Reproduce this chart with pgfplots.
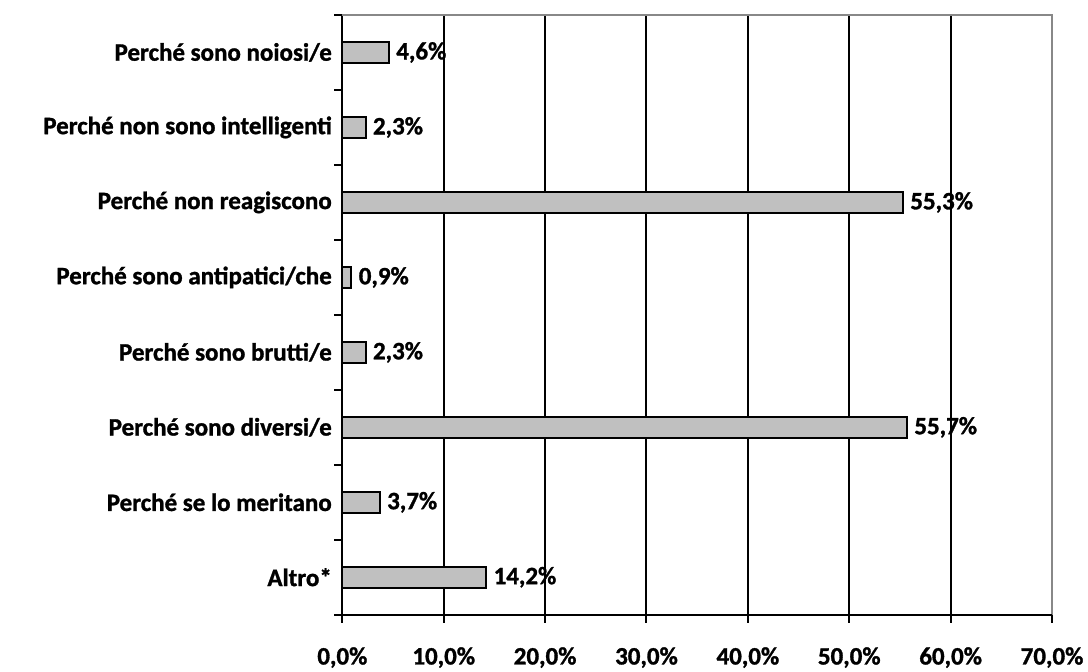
\documentclass[border=0pt]{standalone}
\usepackage{pgfplots}
\pgfplotsset{compat=1.18}
\usepackage{fontspec}
\setmainfont[BoldFeatures={FakeBold=1.2}]{Carlito}
\definecolor{barfill}{HTML}{C0C0C0}
\definecolor{framegray}{HTML}{888888}
\begin{document}
\begin{tikzpicture}[x=1pt,y=1pt]
\begin{axis}[
  scale only axis,
  width=710pt, height=600pt,
  xbar, bar width=21pt,
  xmin=0, xmax=70, ymin=-0.5, ymax=7.5,
  axis x line*=bottom, axis y line*=left,
  axis line style={black, line width=2pt},
  /pgf/number format/assume math mode=true,
  font=\fontsize{25}{29}\selectfont\bfseries,
  xtick={0,10,...,70},
  xticklabel={\pgfmathprintnumber[fixed,zerofill,precision=1,use comma]{\tick}\%},
  xticklabel style={yshift=-21pt},
  xmajorgrids, major grid style={black, line width=2pt},
  ytick={-0.5,0.5,...,7.5},
  yticklabels={},
  extra y ticks={0,...,7},
  extra y tick labels={Altro*,Perché se lo meritano,Perché sono diversi/e,Perché sono brutti/e,Perché sono antipatici/che,Perché non reagiscono,Perché non sono intelligenti,Perché sono noiosi/e},
  extra y tick style={major tick length=0pt, grid=none, yticklabel style={xshift=-7pt}},
  ymajorgrids=false,
  major tick length=8pt,
  tick align=outside,
  tick style={black, line width=2pt},
  nodes near coords={\pgfmathprintnumber[fixed,zerofill,precision=1,use comma]{\pgfplotspointmeta}\%},
  point meta=x,
  every node near coord/.append style={font=\fontsize{25}{29}\selectfont\bfseries, black, anchor=west, xshift=3pt},
  clip=false,
]
\addplot[fill=barfill, draw=black, line width=2pt] coordinates {
 (14.2,0) (3.7,1) (55.7,2) (2.3,3) (0.9,4) (55.3,5) (2.3,6) (4.6,7)};
\draw[framegray, line width=2.5pt] (rel axis cs:0,1) -- (rel axis cs:1,1) -- (rel axis cs:1,0);
\draw[black, line width=2pt] (rel axis cs:0,0) -- (rel axis cs:1,0);
\end{axis}
\path ([xshift=-342.5pt,yshift=-51pt]current axis.south west) rectangle ([xshift=36pt,yshift=15pt]current axis.north east);
\end{tikzpicture}
\end{document}
